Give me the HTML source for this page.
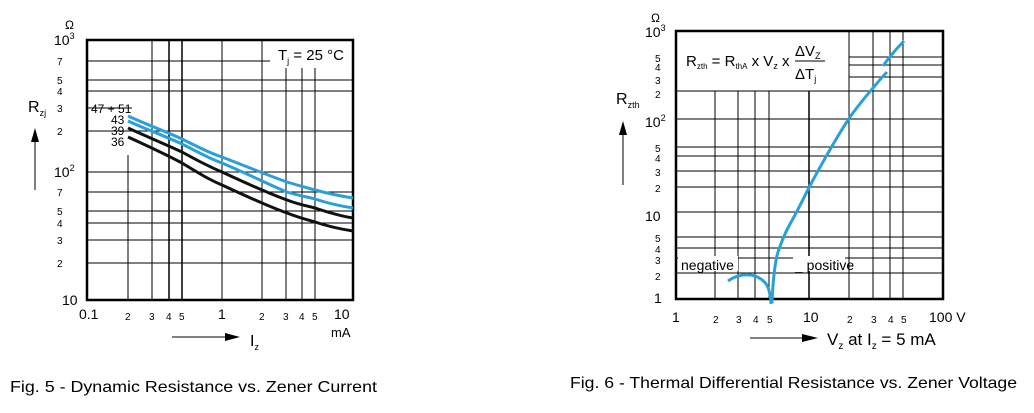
<!DOCTYPE html>
<html><head><meta charset="utf-8"><style>body{margin:0;background:#fff}svg{display:block}</style></head><body>
<svg width="1034" height="413" viewBox="0 0 1034 413" xmlns="http://www.w3.org/2000/svg" font-family="Liberation Sans, sans-serif">
<rect width="1034" height="413" fill="#fff"/>
<!-- LEFT CHART -->
<g stroke="#000" stroke-width="1">
<line x1="87" y1="61" x2="270" y2="61"/>
<line x1="87" y1="80" x2="353" y2="80"/>
<line x1="87" y1="91" x2="353" y2="91"/>
<line x1="87" y1="108" x2="132" y2="108"/>
<line x1="87" y1="131" x2="353" y2="131"/>
<line x1="87" y1="172" x2="353" y2="172"/>
<line x1="87" y1="192" x2="353" y2="192"/>
<line x1="87" y1="211" x2="353" y2="211"/>
<line x1="87" y1="223" x2="353" y2="223"/>
<line x1="87" y1="240" x2="353" y2="240"/>
<line x1="87" y1="263" x2="353" y2="263"/>
<line x1="128" y1="155" x2="128" y2="300"/>
<line x1="152" y1="40" x2="152" y2="300"/>
<line x1="169" y1="40" x2="169" y2="300" stroke-width="1.5"/>
<line x1="182" y1="40" x2="182" y2="300" stroke-width="1.5"/>
<line x1="222" y1="40" x2="222" y2="300"/>
<line x1="262" y1="40" x2="262" y2="300"/>
<line x1="286" y1="68" x2="286" y2="300"/>
<line x1="302" y1="68" x2="302" y2="300"/>
<line x1="315" y1="68" x2="315" y2="300"/>
</g>
<rect x="87" y="40" width="266" height="260" fill="none" stroke="#000" stroke-width="2.5"/>
<g fill="none" stroke-width="3">
<path d="M128,116 C150,126 165,131 182,139 C200,148 210,153 222,157 C250,168 270,176 287,182 C300,186 308,188 315,190 C330,194 340,196 353,198" stroke="#2aa0d8"/>
<path d="M128,121 C150,131 165,136 182,144 C200,153 210,159 222,163 C250,175 270,185 287,192 C300,196 308,197 315,199 C330,204 340,206 353,208" stroke="#2aa0d8"/>
<path d="M128,128 C150,138 165,144 182,152 C200,162 210,167 222,172 C250,185 270,194 287,200 C300,205 308,206 315,208 C330,213 340,216 353,218" stroke="#111"/>
<path d="M128,137 C150,147 165,154 182,163 C200,174 210,180 222,185 C250,198 270,207 287,213 C300,218 308,220 315,222 C330,227 340,229 353,231" stroke="#111"/>
</g>
<g font-size="11" fill="#000">
<text x="65" y="29" font-size="12">Ω</text>
<text x="54" y="45" font-size="14">10<tspan font-size="9" dy="-6">3</tspan></text>
<text x="57" y="65" font-size="10">7</text><text x="57" y="84" font-size="10">5</text><text x="57" y="95" font-size="10">4</text><text x="57" y="112" font-size="10">3</text><text x="57" y="135" font-size="10">2</text>
<text x="54" y="177" font-size="14">10<tspan font-size="9" dy="-6">2</tspan></text>
<text x="57" y="196" font-size="10">7</text><text x="57" y="215" font-size="10">5</text><text x="57" y="227" font-size="10">4</text><text x="57" y="244" font-size="10">3</text><text x="57" y="267" font-size="10">2</text>
<text x="62" y="305" font-size="14">10</text>
<text x="79" y="319" font-size="14">0.1</text>
<text x="125" y="320" font-size="10">2</text><text x="149" y="320" font-size="10">3</text><text x="166" y="320" font-size="10">4</text><text x="179" y="320" font-size="10">5</text>
<text x="218" y="319" font-size="14">1</text>
<text x="259" y="320" font-size="10">2</text><text x="283" y="320" font-size="10">3</text><text x="299" y="320" font-size="10">4</text><text x="312" y="320" font-size="10">5</text>
<text x="334" y="319" font-size="14">10</text>
<text x="331" y="337" font-size="13">mA</text>
<text x="91" y="113" font-size="12">47 + 51</text>
<text x="111" y="124" font-size="12">43</text>
<text x="111" y="135" font-size="12">39</text>
<text x="111" y="146" font-size="12">36</text>
<text x="278" y="60" font-size="15">T<tspan font-size="9" dy="4">j</tspan><tspan dy="-4"> = 25 °C</tspan></text>
<text x="28" y="112" font-size="16">R<tspan font-size="9" dy="4">zj</tspan></text>
<text x="250" y="346" font-size="16">I<tspan font-size="9" dy="4">z</tspan></text>
</g>
<line x1="35" y1="190" x2="35" y2="140" stroke="#000"/>
<polygon points="31,142 39,142 35,128" fill="#000"/>
<line x1="172" y1="337" x2="230" y2="337" stroke="#000"/>
<polygon points="225,333 225,341 240,337" fill="#000"/>
<!-- RIGHT CHART -->
<g stroke="#000" stroke-width="1">
<line x1="849" y1="57" x2="943" y2="57"/>
<line x1="849" y1="65" x2="943" y2="65"/>
<line x1="849" y1="77" x2="943" y2="77"/>
<line x1="676" y1="91" x2="943" y2="91"/>
<line x1="676" y1="119" x2="943" y2="119"/>
<line x1="676" y1="147" x2="943" y2="147"/>
<line x1="676" y1="156" x2="943" y2="156"/>
<line x1="676" y1="171" x2="943" y2="171"/>
<line x1="676" y1="187" x2="943" y2="187"/>
<line x1="676" y1="212" x2="943" y2="212"/>
<line x1="676" y1="237" x2="943" y2="237"/>
<line x1="676" y1="248" x2="943" y2="248"/>
<line x1="676" y1="258" x2="943" y2="258"/>
<line x1="676" y1="273" x2="943" y2="273"/>
<line x1="715" y1="91" x2="715" y2="299"/>
<line x1="738" y1="91" x2="738" y2="299"/>
<line x1="755" y1="91" x2="755" y2="299"/>
<line x1="769" y1="91" x2="769" y2="299"/>
<line x1="809" y1="91" x2="809" y2="299" stroke-width="1.5"/>
<line x1="849" y1="31" x2="849" y2="299"/>
<line x1="873" y1="31" x2="873" y2="299"/>
<line x1="890" y1="31" x2="890" y2="299"/>
<line x1="903" y1="31" x2="903" y2="299"/>
</g>
<rect x="678" y="256" width="60" height="15" fill="#fff"/>
<rect x="793" y="256" width="52" height="15" fill="#fff"/>
<rect x="676" y="31" width="267" height="268" fill="none" stroke="#000" stroke-width="2.5"/>
<g fill="none" stroke="#2aa0d8" stroke-width="3">
<path d="M728,281 C735,276 745,273 755,276 C765,280 770,285 771,304"/>
<path d="M772,303 C773,280 775,262 778,252 C782,240 785,233 790,224 C798,210 805,195 813,180 C825,158 838,135 850,117 C860,103 867,95 873,88 C878,82 883,76 887,72"/>
<path d="M883,66 C890,56 897,48 904,41"/>
</g>
<g font-size="11" fill="#000">
<text x="651" y="22" font-size="12">Ω</text>
<text x="645" y="37" font-size="14">10<tspan font-size="9" dy="-6">3</tspan></text>
<text x="655" y="62" font-size="10">5</text><text x="655" y="71" font-size="10">4</text><text x="655" y="84" font-size="10">3</text><text x="655" y="98" font-size="10">2</text>
<text x="645" y="127" font-size="14">10<tspan font-size="9" dy="-6">2</tspan></text>
<text x="655" y="152" font-size="10">5</text><text x="655" y="162" font-size="10">4</text><text x="655" y="176" font-size="10">3</text><text x="655" y="192" font-size="10">2</text>
<text x="645" y="221" font-size="14">10</text>
<text x="655" y="242" font-size="10">5</text><text x="655" y="253" font-size="10">4</text><text x="655" y="264" font-size="10">3</text><text x="655" y="280" font-size="10">2</text>
<text x="654" y="303" font-size="14">1</text>
<text x="672" y="322" font-size="14">1</text>
<text x="713" y="323" font-size="10">2</text><text x="736" y="323" font-size="10">3</text><text x="753" y="323" font-size="10">4</text><text x="767" y="323" font-size="10">5</text>
<text x="803" y="322" font-size="14">10</text>
<text x="847" y="323" font-size="10">2</text><text x="871" y="323" font-size="10">3</text><text x="888" y="323" font-size="10">4</text><text x="901" y="323" font-size="10">5</text>
<text x="929" y="322" font-size="14">100 V</text>
<text x="681" y="270" font-size="14">negative</text>
<text x="795" y="270" font-size="14">_ positive</text>
<text x="686" y="66" font-size="15">R<tspan font-size="8" dy="3">zth</tspan><tspan dy="-3"> = R</tspan><tspan font-size="8" dy="3">thA</tspan><tspan dy="-3"> x V</tspan><tspan font-size="9" dy="3">z</tspan><tspan dy="-3"> x</tspan></text>
<text x="795" y="56" font-size="15">ΔV<tspan font-size="9" dy="3">Z</tspan></text>
<text x="795" y="79" font-size="15">ΔT<tspan font-size="9" dy="3">j</tspan></text>
<text x="616" y="104" font-size="16">R<tspan font-size="9" dy="4">zth</tspan></text>
<text x="827" y="345" font-size="17">V<tspan font-size="10" dy="4">z</tspan><tspan dy="-4"> at I</tspan><tspan font-size="10" dy="4">z</tspan><tspan dy="-4"> = 5 mA</tspan></text>
</g>
<line x1="795" y1="61" x2="825" y2="61" stroke="#000"/>
<line x1="623" y1="185" x2="623" y2="135" stroke="#000"/>
<polygon points="619,135 627,135 623,121" fill="#000"/>
<line x1="750" y1="338" x2="805" y2="338" stroke="#000"/>
<polygon points="802,334 802,342 818,338" fill="#000"/>
<text x="10" y="392" font-size="16" textLength="367" lengthAdjust="spacingAndGlyphs">Fig. 5 - Dynamic Resistance vs. Zener Current</text>
<text x="570" y="388" font-size="16" textLength="447" lengthAdjust="spacingAndGlyphs">Fig. 6 - Thermal Differential Resistance vs. Zener Voltage</text>
</svg>
</body></html>
